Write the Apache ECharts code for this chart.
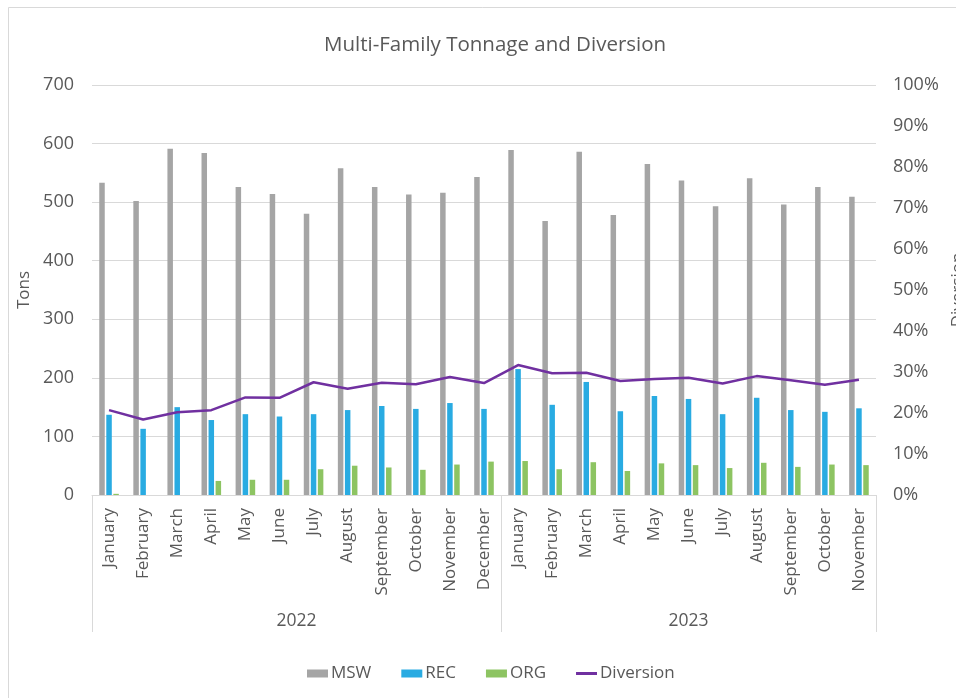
<!DOCTYPE html>
<html>
<head>
<meta charset="utf-8">
<title>Multi-Family Tonnage and Diversion</title>
<script src="https://cdn.jsdelivr.net/npm/echarts@6/dist/echarts.min.js"></script>
<style>
  html, body { margin: 0; padding: 0; background: #ffffff; overflow: hidden; }
  #chart { width: 956px; height: 698px; }
</style>
</head>
<body>
<div id="chart"></div>
<script>
// Monthly tonnage (tons) and diversion rate, Jan 2022 – Nov 2023
const months = [
  'January', 'February', 'March', 'April', 'May', 'June', 'July', 'August',
  'September', 'October', 'November', 'December',
  'January', 'February', 'March', 'April', 'May', 'June', 'July', 'August',
  'September', 'October', 'November'
];
const years = ['2022', '2023'];
const monthsPerYear = [12, 11];

const msw = [533, 502, 591, 584, 526, 514, 480, 558, 526, 513, 516, 543,
             589, 468, 586, 478, 565, 537, 493, 541, 496, 526, 509];
const rec = [137, 113, 150, 128, 138, 134, 138, 145, 152, 147, 157, 147,
             215, 154, 193, 143, 169, 164, 138, 166, 145, 142, 148];
const org = [2, 0, 0, 24, 26, 26, 44, 50, 47, 43, 52, 57,
             58, 44, 56, 41, 54, 51, 46, 55, 48, 52, 51];
const diversion = [0.207, 0.184, 0.202, 0.207, 0.238, 0.237, 0.275, 0.259, 0.274, 0.270, 0.288, 0.273,
                   0.317, 0.297, 0.298, 0.278, 0.283, 0.286, 0.272, 0.290, 0.280, 0.269, 0.281];

const tonTicks = { min: 0, max: 700, interval: 100 };
const pctTicks = { min: 0, max: 1, interval: 0.1 };

// Year group boundaries and centres along the month axis
const yearBounds = [0];
monthsPerYear.forEach(n => yearBounds.push(yearBounds[yearBounds.length - 1] + n));
const yearCentres = monthsPerYear.map((n, i) => yearBounds[i] + n / 2);

const FONT = 'Open Sans';
const TEXT = '#595959';
const GRID = '#d9d9d9';

const chart = echarts.init(document.getElementById('chart'), null, { renderer: 'canvas' });

chart.setOption({
  backgroundColor: '#ffffff',
  animation: false,
  textStyle: { fontFamily: FONT, color: TEXT },
  title: {
    text: 'Multi-Family Tonnage and Diversion',
    left: 319,
    top: 30,
    textStyle: { fontFamily: FONT, fontSize: 20.5, fontWeight: 'normal', color: TEXT }
  },
  graphic: [{
    type: 'rect',
    shape: { x: 8.5, y: 7.5, width: 1000, height: 1000 },
    style: { fill: 'none', stroke: GRID, lineWidth: 1 },
    silent: true
  }],
  legend: {
    top: 660,
    left: 302,
    itemWidth: 21,
    itemHeight: 8,
    itemGap: 30,
    icon: 'rect',
    textStyle: { fontFamily: FONT, fontSize: 17, color: TEXT, padding: [0, 0, 0, -2] },
    data: [
      { name: 'MSW' },
      { name: 'REC' },
      { name: 'ORG' },
      { name: 'Diversion', icon: 'path://M0,2.5 L21,2.5 L21,5.5 L0,5.5 Z' }
    ]
  },
  grid: {
    left: 92, right: 80, top: 85, bottom: 203,
    containLabel: false,
    outerBoundsMode: 'none'
  },
  xAxis: [
    {
      type: 'category',
      data: months,
      axisLine: { lineStyle: { color: GRID, width: 1 } },
      axisTick: { show: false },
      axisLabel: {
        rotate: 90,
        margin: 13,
        interval: 0,
        fontFamily: FONT,
        fontSize: 17,
        color: TEXT
      },
      splitLine: { show: false }
    },
    {
      // Year level of the category axis: group separators and year names
      type: 'value',
      min: 0,
      max: yearBounds[yearBounds.length - 1],
      position: 'bottom',
      offset: 0,
      axisLine: { show: false },
      splitLine: { show: false },
      axisTick: {
        show: true,
        inside: false,
        length: 137,
        customValues: yearBounds,
        lineStyle: { color: GRID, width: 1 }
      },
      axisLabel: {
        margin: 117,
        customValues: yearCentres,
        formatter: v => years[yearCentres.indexOf(v)] || '',
        fontFamily: FONT,
        fontSize: 17.5,
        color: TEXT
      }
    }
  ],
  yAxis: [
    {
      type: 'value',
      min: tonTicks.min,
      max: tonTicks.max,
      interval: tonTicks.interval,
      name: 'Tons',
      nameLocation: 'middle',
      nameRotate: 90,
      nameGap: 52,
      nameTextStyle: { fontFamily: FONT, fontSize: 17, color: TEXT },
      axisLine: { show: false },
      axisTick: { show: false },
      axisLabel: { margin: 18, fontFamily: FONT, fontSize: 18, color: TEXT },
      splitLine: { lineStyle: { color: GRID, width: 1 } }
    },
    {
      type: 'value',
      min: pctTicks.min,
      max: pctTicks.max,
      interval: pctTicks.interval,
      position: 'right',
      name: 'Diversion',
      nameLocation: 'middle',
      nameRotate: 90,
      nameGap: 65,
      nameTextStyle: { fontFamily: FONT, fontSize: 17, color: TEXT },
      axisLine: { show: false },
      axisTick: { show: false },
      axisLabel: {
        margin: 17,
        fontFamily: FONT,
        fontSize: 18,
        color: TEXT,
        formatter: v => Math.round(v * 100) + '%'
      },
      splitLine: { show: false }
    }
  ],
  series: [
    {
      name: 'MSW',
      type: 'bar',
      data: msw,
      barWidth: 5.5,
      barGap: '28%',
      itemStyle: { color: '#a5a5a5' }
    },
    {
      name: 'REC',
      type: 'bar',
      data: rec,
      barWidth: 5.5,
      barGap: '28%',
      itemStyle: { color: '#29abe2' }
    },
    {
      name: 'ORG',
      type: 'bar',
      data: org,
      barWidth: 5.5,
      barGap: '28%',
      itemStyle: { color: '#8dc462' }
    },
    {
      name: 'Diversion',
      type: 'line',
      yAxisIndex: 1,
      data: diversion,
      symbol: 'none',
      lineStyle: { color: '#7030a0', width: 2.5 },
      itemStyle: { color: '#7030a0' }
    }
  ]
});
</script>
</body>
</html>
